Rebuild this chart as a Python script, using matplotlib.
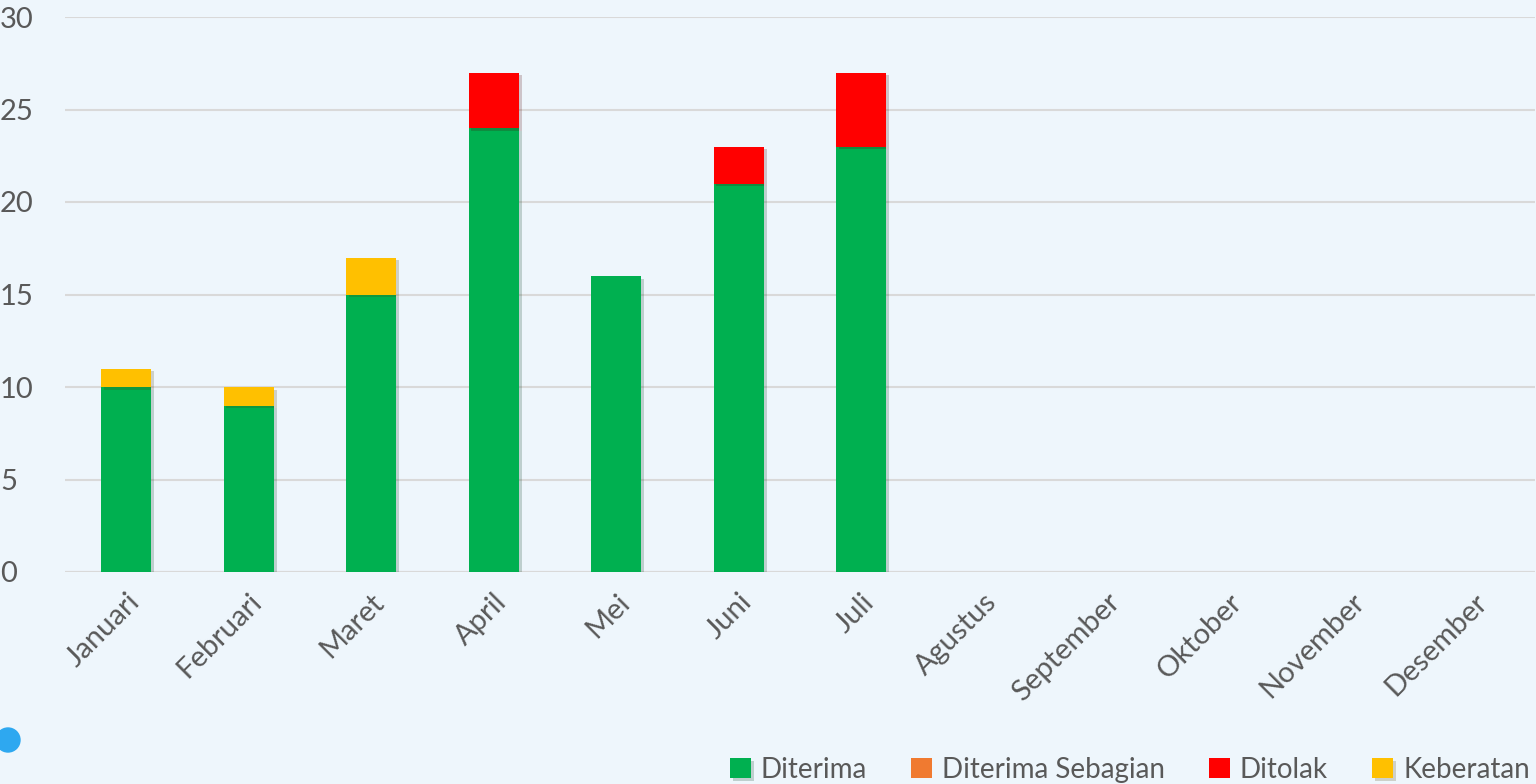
import matplotlib.pyplot as plt
import matplotlib.patheffects as pe
from matplotlib.patches import Ellipse
import numpy as np

# data
bulan = ['Januari', 'Februari', 'Maret', 'April', 'Mei', 'Juni', 'Juli',
         'Agustus', 'September', 'Oktober', 'November', 'Desember']
diterima = [10, 9, 15, 24, 16, 21, 23, 0, 0, 0, 0, 0]
diterima_sebagian = [0, 0, 0, 0, 0, 0, 0, 0, 0, 0, 0, 0]
ditolak = [0, 0, 0, 3, 0, 2, 4, 0, 0, 0, 0, 0]
keberatan = [1, 1, 2, 0, 0, 0, 0, 0, 0, 0, 0, 0]

bg = '#EEF6FC'
txt = '#595959'
plt.rcParams['font.family'] = ['Lato', 'DejaVu Sans']

fig = plt.figure(figsize=(15.36, 7.84), dpi=100, facecolor=bg)
ax = fig.add_axes([65 / 1536, 1 - 572 / 784, 1470 / 1536, 555 / 784])
ax.set_facecolor(bg)

x = np.arange(len(bulan))
w = 0.41
shadow = [pe.SimplePatchShadow(offset=(2, -2), alpha=0.2), pe.Normal()]

series = [('Diterima', diterima, '#00B050'),
          ('Diterima Sebagian', diterima_sebagian, '#F07A30'),
          ('Ditolak', ditolak, '#FF0000'),
          ('Keberatan', keberatan, '#FFC000')]
bottom = np.zeros(len(bulan))
for name, vals, col in series:
    vals = np.array(vals, dtype=float)
    bars = ax.bar(x, vals, w, bottom=bottom, color=col, label=name, zorder=3)
    for b, v in zip(bars, vals):
        if v > 0:
            b.set_path_effects(shadow)
    bottom += vals

ax.set_xlim(-0.5, len(bulan) - 0.5)
ax.set_ylim(0, 30)
ax.set_yticks(range(0, 31, 5))
ax.grid(axis='y', color='#D9D9D9', linewidth=1.5, zorder=0)
for s in ax.spines.values():
    s.set_visible(False)
ax.axhline(0, color='#D9D9D9', linewidth=1.5, zorder=2)
ax.tick_params(axis='both', length=0, colors=txt, labelsize=21)
ax.set_xticks(x)
ax.set_xticklabels(bulan, rotation=45, ha='right', rotation_mode='anchor')
ax.tick_params(axis='x', pad=12)
for lab in ax.get_yticklabels():
    lab.set_horizontalalignment('left')
    lab.set_x(-65 / 1470)
ax.tick_params(axis='y', pad=0)

leg = ax.legend(loc='lower right', bbox_to_anchor=(1.004, -0.40), ncol=4,
                frameon=False, fontsize=20, handlelength=0.75, handleheight=0.75,
                handletextpad=0.35, columnspacing=1.6, labelcolor=txt,
                borderaxespad=0)

fig.patches.append(Ellipse((8 / 1536, 1 - 740 / 784), 24 / 1536, 24 / 784,
                           transform=fig.transFigure, color='#2EA8F0', zorder=5))

fig.savefig('out.png', dpi=100, facecolor=bg)
